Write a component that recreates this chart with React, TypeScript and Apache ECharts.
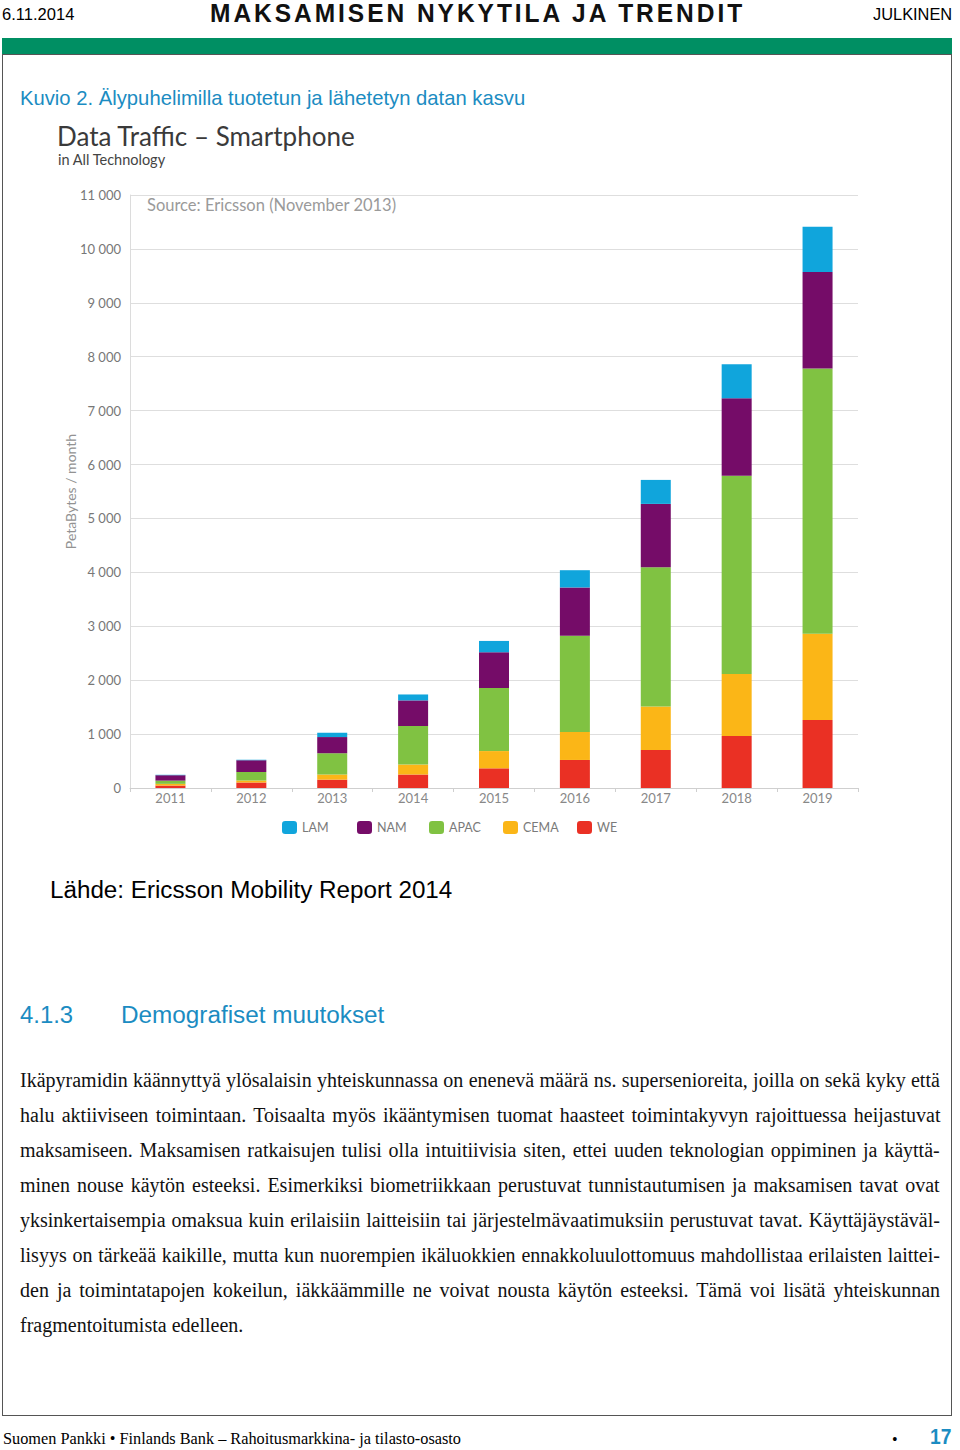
import React, { useEffect, useLayoutEffect, useRef } from "react";
import * as echarts from "echarts";

const years = ["2011", "2012", "2013", "2014", "2015", "2016", "2017", "2018", "2019"];
const weValues = [45, 100, 155, 250, 365, 520, 705, 965, 1260];
const cemaValues = [32, 37, 95, 185, 320, 520, 805, 1150, 1600];
const apacValues = [60, 160, 395, 715, 1170, 1785, 2585, 3675, 4920];
const namValues = [100, 217, 300, 475, 663, 895, 1175, 1440, 1790];
const lamValues = [8, 10, 80, 110, 210, 320, 445, 630, 840];
const legendNames = ["LAM", "NAM", "APAC", "CEMA", "WE"];
const yTicks = { min: 0, max: 11000, interval: 1000 };

const paragraphLines = [
  "Ikäpyramidin käännyttyä ylösalaisin yhteiskunnassa on enenevä määrä ns. supersenioreita, joilla on sekä kyky että",
  "halu aktiiviseen toimintaan. Toisaalta myös ikääntymisen tuomat haasteet toimintakyvyn rajoittuessa heijastuvat",
  "maksamiseen. Maksamisen ratkaisujen tulisi olla intuitiivisia siten, ettei uuden teknologian oppiminen ja käyttä-",
  "minen nouse käytön esteeksi. Esimerkiksi biometriikkaan perustuvat tunnistautumisen ja maksamisen tavat ovat",
  "yksinkertaisempia omaksua kuin erilaisiin laitteisiin tai järjestelmävaatimuksiin perustuvat tavat. Käyttäjäystäväl-",
  "lisyys on tärkeää kaikille, mutta kun nuorempien ikäluokkien ennakkoluulottomuus mahdollistaa erilaisten laittei-",
  "den ja toimintatapojen kokeilun, iäkkäämmille ne voivat nousta käytön esteeksi. Tämä voi lisätä yhteiskunnan",
  "fragmentoitumista edelleen.",
];

const COLORS: Record<string, string> = {
  LAM: "#10a5dc",
  NAM: "#750c68",
  APAC: "#80c242",
  CEMA: "#fbb617",
  WE: "#ea3024",
};

type FitProps = {
  x: number;
  cy: number;
  width?: number;
  size: number;
  family: string;
  color?: string;
  bold?: boolean;
  ls?: number;
  mode?: "squeeze" | "justify" | "none";
  children: string;
};

function Fit({ x, cy, width, size, family, color = "#000", bold, ls = 0, mode = "squeeze", children }: FitProps) {
  const ref = useRef<HTMLSpanElement>(null);
  useLayoutEffect(() => {
    const el = ref.current;
    if (!el || !width || mode === "none") return;
    el.style.transform = "none";
    el.style.wordSpacing = "0px";
    const w = el.offsetWidth;
    if (mode === "justify") {
      const n = (children.match(/ /g) || []).length;
      if (n > 0) el.style.wordSpacing = (width - w) / n + "px";
    } else if (w > 0) {
      el.style.transform = `scaleX(${width / w})`;
    }
  }, [children, width, mode]);
  const lh = Math.round(size * 1.3);
  return (
    <span
      ref={ref}
      style={{
        position: "absolute",
        left: x,
        top: cy - lh / 2,
        lineHeight: lh + "px",
        fontSize: size,
        fontFamily: family,
        fontWeight: bold ? 700 : 400,
        color,
        letterSpacing: ls,
        whiteSpace: "pre",
        transformOrigin: "left center",
        display: "inline-block",
      }}
    >
      {children}
    </span>
  );
}

const SANS = '"Liberation Sans", Arial, sans-serif';
const SERIF = '"Liberation Serif", "Times New Roman", serif';
const BLUE = "#1b8cc2";

function Chart() {
  const ref = useRef<HTMLDivElement>(null);
  useEffect(() => {
    if (!ref.current) return;
    const chart = echarts.init(ref.current, undefined, { renderer: "svg" });
    const seriesData: Record<string, number[]> = {
      WE: weValues,
      CEMA: cemaValues,
      APAC: apacValues,
      NAM: namValues,
      LAM: lamValues,
    };
    const stackOrder = ["WE", "CEMA", "APAC", "NAM", "LAM"];
    const legendLefts = [277, 352, 424, 498, 572];
    const font = "Lato, 'Open Sans', sans-serif";
    chart.setOption({
      animation: false,
      textStyle: { fontFamily: font },
      title: [
        {
          text: "Data Traffic – Smartphone",
          left: 52,
          top: 8,
          textStyle: { fontSize: 26, fontWeight: "normal", color: "#3a3a3a", fontFamily: font },
        },
        {
          text: "in All Technology",
          left: 53,
          top: 37,
          textStyle: { fontSize: 14.5, fontWeight: "normal", color: "#444", fontFamily: font },
        },
      ],
      graphic: [
        {
          type: "text",
          left: 147,
          top: 86,
          style: { text: "Source: Ericsson (November 2013)", fontSize: 16.5, fill: "#9a9a9a", fontFamily: font },
        },
      ],
      legend: legendNames.map((name, i) => ({
        data: [name],
        left: legendLefts[i],
        top: 706,
        icon: "roundRect",
        itemWidth: 15,
        itemHeight: 13,
        textStyle: { fontSize: 12.5, color: "#7a7a7a", fontFamily: font },
      })),
      grid: { left: 130, right: 102, top: 85, bottom: 72 },
      xAxis: {
        type: "category",
        data: years,
        axisLine: { lineStyle: { color: "#cfcfcf" } },
        axisTick: { show: true, alignWithLabel: false, length: 4, lineStyle: { color: "#cfcfcf" } },
        axisLabel: { color: "#888", fontSize: 13, margin: 3 },
      },
      yAxis: {
        type: "value",
        min: yTicks.min,
        max: yTicks.max,
        interval: yTicks.interval,
        name: "PetaBytes / month",
        nameLocation: "middle",
        nameGap: 53,
        nameMoveOverlap: false,
        nameTextStyle: { color: "#929292", fontSize: 14, fontFamily: font },
        axisLine: { show: true, lineStyle: { color: "#dcdcdc" } },
        axisTick: { show: false },
        splitLine: { lineStyle: { color: "#dedede" } },
        axisLabel: {
          color: "#777",
          fontSize: 13,
          margin: 9,
          formatter: (v: number) => String(v).replace(/\B(?=(\d{3})+(?!\d))/g, " "),
        },
      },
      series: stackOrder.map((name) => ({
        name,
        type: "bar",
        stack: "total",
        barWidth: 30,
        data: seriesData[name],
        itemStyle: { color: COLORS[name] },
      })),
    });
    return () => chart.dispose();
  }, []);
  return <div ref={ref} style={{ position: "absolute", left: 0, top: 110, width: 960, height: 750 }} />;
}

export default function App() {
  return (
    <div style={{ position: "absolute", left: 0, top: 0, width: 960, height: 1450, background: "#fff", overflow: "hidden" }}>
      <Fit x={2} cy={15} width={72} size={17} family={SANS}>6.11.2014</Fit>
      <Fit x={210} cy={13} width={535} size={25} family={SANS} bold ls={3} color="#111">MAKSAMISEN NYKYTILA JA TRENDIT</Fit>
      <Fit x={873} cy={15} width={79} size={17} family={SANS}>JULKINEN</Fit>
      <div style={{ position: "absolute", left: 2, top: 38, width: 950, height: 16, background: "#008f63" }} />
      <div style={{ position: "absolute", left: 2, top: 54, width: 948, height: 1360, border: "1px solid #555" }} />
      <Fit x={20} cy={97} width={505} size={21} family={SANS} color={BLUE}>Kuvio 2. Älypuhelimilla tuotetun ja lähetetyn datan kasvu</Fit>
      <Chart />
      <Fit x={50} cy={890} width={402} size={23} family={SANS}>Lähde: Ericsson Mobility Report 2014</Fit>
      <Fit x={20} cy={1015} width={53} size={23} family={SANS} color={BLUE}>4.1.3</Fit>
      <Fit x={121} cy={1015} width={263} size={23} family={SANS} color={BLUE}>Demografiset muutokset</Fit>
      {paragraphLines.map((line, i) => (
        <Fit
          key={i}
          x={20}
          cy={1080 + i * 35}
          width={i === paragraphLines.length - 1 ? undefined : 920}
          size={20}
          family={SERIF}
          mode={i === paragraphLines.length - 1 ? "none" : "justify"}
          color="#111"
        >
          {line}
        </Fit>
      ))}
      <Fit x={3} cy={1438} width={458} size={16} family={SERIF}>Suomen Pankki • Finlands Bank – Rahoitusmarkkina- ja tilasto-osasto</Fit>
      <Fit x={892} cy={1439} size={16} family={SERIF} mode="none">•</Fit>
      <Fit x={930} cy={1436} width={21} size={22} family={SANS} bold color={BLUE}>17</Fit>
    </div>
  );
}
